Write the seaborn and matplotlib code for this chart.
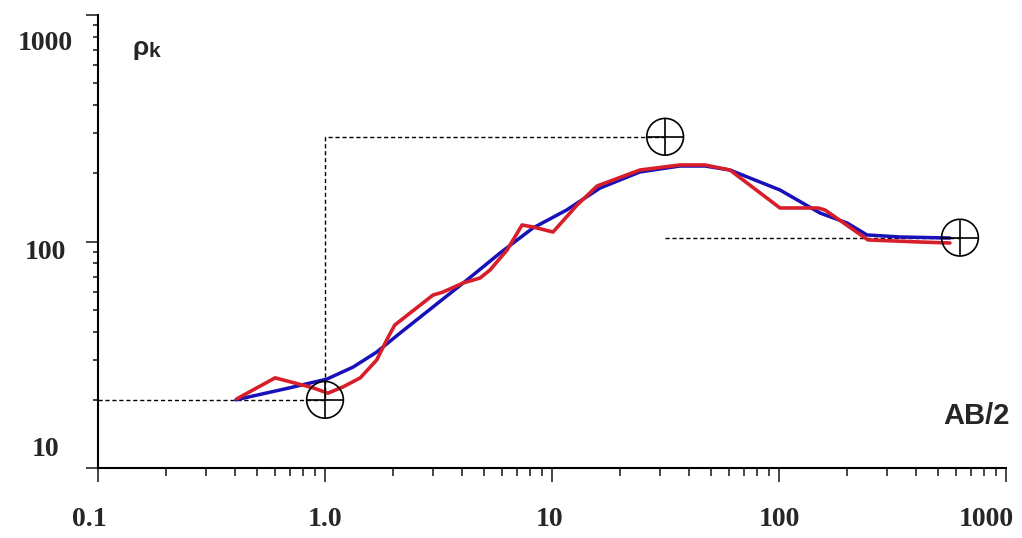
import matplotlib
matplotlib.use('Agg')
import matplotlib.pyplot as plt
import matplotlib.ticker as mticker
from matplotlib.transforms import ScaledTranslation
import seaborn as sns

# measured sounding curve (red)
ab2_field = [0.409, 0.603, 0.885, 1.03, 1.20, 1.43, 1.69, 1.90, 2.03, 2.99,
             3.31, 4.06, 4.82, 5.33, 6.34, 7.38, 8.24, 10.1, 12.9, 15.8,
             24.4, 36.6, 47.2, 60.8, 101, 148.6, 159.6, 246.6, 418, 566]
rho_field = [20.2, 25.0, 22.6, 21.4, 22.8, 25.0, 30.0, 37.9, 42.8, 58.0,
             59.8, 65.6, 69.0, 74.8, 91.7, 118.3, 115.9, 110.1, 144.9, 175.8,
             206.8, 217.7, 217.7, 206.8, 140.6, 140.6, 137.7, 101.6, 99.5, 98.5]

# fitted model curve (blue)
ab2_model = [0.405, 0.70, 1.02, 1.33, 1.69, 2.14, 4.22, 5.90, 8.24, 11.6,
             16.3, 24.4, 36.6, 47.2, 60.8, 101, 151.6, 199.5, 244, 341, 566]
rho_model = [20.0, 22.6, 24.7, 27.9, 32.5, 39.4, 67.6, 88.9, 114.7, 137.7,
             172.3, 202.8, 215.4, 215.4, 206.8, 168.8, 133.6, 120.7, 106.9, 104.7, 103.6]

# layer cross points and guide lines
ab2_pts = [1.0, 31.5, 627]
rho_pts = [20, 290, 104]
guide1_x = [0.1, 1.0, 1.0, 31.5]
guide1_y = [20, 20, 290, 290]
guide2_x = [31.5, 627]
guide2_y = [104, 104]

x_ticks = [0.1, 1, 10, 100, 1000]
x_labels = ['0.1', '1.0', '10', '100', '1000']
y_ticks = [10, 100, 1000]
y_labels = ['10', '100', '1000']

sns.set_style('ticks')
plt.rcParams['font.family'] = ['Liberation Sans', 'DejaVu Sans']

fig = plt.figure(figsize=(10.22, 5.38), dpi=100)
ax = fig.add_axes([98 / 1022, 70 / 538, 908 / 1022, 453 / 538])
ax.set_xscale('log')
ax.set_yscale('log')

dash = (0, (3, 2))
sns.lineplot(x=guide1_x, y=guide1_y, sort=False, estimator=None, color='black',
             lw=1.0, linestyle=dash, ax=ax)
sns.lineplot(x=guide2_x, y=guide2_y, sort=False, estimator=None, color='black',
             lw=1.0, linestyle=dash, ax=ax)

sns.lineplot(x=ab2_model, y=rho_model, sort=False, estimator=None,
             color='#1810b8', lw=2.5, ax=ax)
sns.lineplot(x=ab2_field, y=rho_field, sort=False, estimator=None,
             color='#d81e2a', lw=2.6, ax=ax)

sns.scatterplot(x=ab2_pts, y=rho_pts, marker='o', s=700, facecolors='none',
                edgecolors='black', linewidth=1.2, ax=ax, zorder=5)
sns.scatterplot(x=ab2_pts, y=rho_pts, marker='+', s=700, color='black',
                linewidth=1.2, ax=ax, zorder=5)

ax.set_xlim(0.1, 1000)
ax.set_ylim(10, 1000)

ax.spines[['top', 'right']].set_visible(False)
for side in ['left', 'bottom']:
    ax.spines[side].set_linewidth(1.5)
    ax.spines[side].set_color('black')

ax.xaxis.set_major_locator(mticker.FixedLocator(x_ticks))
ax.xaxis.set_minor_locator(mticker.LogLocator(base=10, subs=range(2, 10), numticks=20))
ax.yaxis.set_major_locator(mticker.FixedLocator(y_ticks))
ax.yaxis.set_minor_locator(mticker.LogLocator(base=10, subs=range(2, 10), numticks=20))
ax.xaxis.set_minor_formatter(mticker.NullFormatter())
ax.yaxis.set_minor_formatter(mticker.NullFormatter())

ax.tick_params(axis='x', which='major', length=10, width=1.2, pad=18, bottom=True)
ax.tick_params(axis='x', which='minor', length=6, width=1.2, bottom=True)
ax.tick_params(axis='y', which='major', length=9, width=1.2, pad=29, left=True)
ax.tick_params(axis='y', which='minor', length=3.5, width=1.2, left=True)

tick_font = dict(fontfamily='Liberation Serif', fontweight='bold', fontsize=20)
ax.set_xticklabels(x_labels, **tick_font)
ax.set_yticklabels(y_labels, **tick_font)

# the old program draws labels a bit off their ticks
for lbl, dy in zip(ax.get_yticklabels(), [15.8, -5.8, -18.7]):
    lbl.set_horizontalalignment('center')
    lbl.set_transform(lbl.get_transform() + ScaledTranslation(0, dy / 72, fig.dpi_scale_trans))
for lbl, dx in zip(ax.get_xticklabels(), [-6.5, 0, -2, 0, -14.4]):
    lbl.set_transform(lbl.get_transform() + ScaledTranslation(dx / 72, 0, fig.dpi_scale_trans))

ax.set_xlabel('')
ax.set_ylabel('')

fig.text(976 / 1022, 1 - 416 / 538, 'AB/2', ha='center', va='center',
         fontsize=21, fontweight='bold', family='Liberation Sans')
fig.text(141 / 1022, 1 - 55 / 538, 'ρ', ha='center', va='baseline',
         fontsize=19, fontweight='bold', family='Liberation Sans')
fig.text(149 / 1022, 1 - 57 / 538, 'k', ha='left', va='baseline',
         fontsize=15, fontweight='bold', family='Liberation Sans')

fig.savefig('out.png', dpi=100, facecolor='white')
